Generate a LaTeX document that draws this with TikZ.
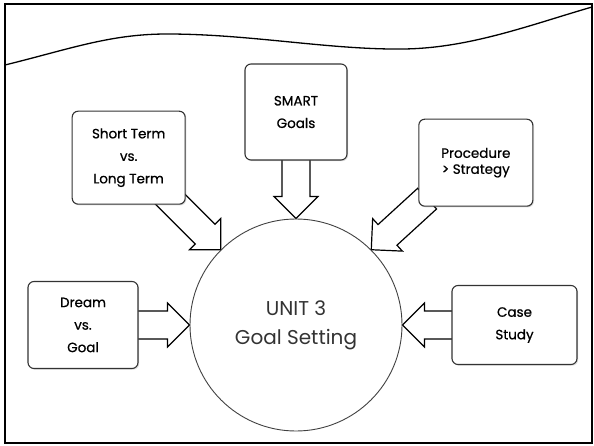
\documentclass[tikz,border=0pt]{standalone}
\usepackage{fontspec}
\setmainfont{Poppins}
\newfontfamily\topicfont{Poppins}[FakeBold=0.7]
\usetikzlibrary{positioning, calc, backgrounds, shadows}

\tikzset{
  topic/.style={draw=black!80, line width=1.1pt, rounded corners=6pt, fill=white, align=center,
    font=\topicfont\fontsize{13.5}{22.5}\selectfont, inner sep=2pt,
    drop shadow={shadow xshift=1.2pt, shadow yshift=-1.2pt, opacity=0.25}},
  unitcircle/.style={circle, draw=black!75, line width=0.9pt, minimum size=212pt, align=center,
    font=\fontsize{20}{29}\selectfont, text=black!80},
  fatarrow/.style={draw=black, fill=white, line width=1.2pt, line join=miter},
  frame/.style={draw=black, line width=1.6pt},
  wave/.style={draw=black, line width=1.3pt}
}

\newcommand{\blockarrow}[2]{%
  \coordinate (tail) at ($(#1)!-12pt!(#2)$);
  \coordinate (neck) at ($(#2)!22pt!(#1)$);
  \draw[fatarrow] ($(tail)!14pt!90:(#2)$) -- ($(neck)!14pt!-90:(#1)$) -- ($(neck)!22pt!-90:(#1)$)
    -- (#2) -- ($(neck)!22pt!90:(#1)$) -- ($(neck)!14pt!90:(#1)$) -- ($(tail)!14pt!-90:(#2)$) -- cycle;}

\begin{document}
\begin{tikzpicture}[x=1pt, y=1pt]
        \useasboundingbox (0,0) rectangle (594,445);
        \draw[frame] (5,2) rectangle (592,441);
        \draw[wave] (5,380) .. controls (70,396) and (110,411) .. (167,411)
            .. controls (250,411) and (330,395) .. (404,396)
            .. controls (470,397) and (530,420) .. (592,438);
        \node[unitcircle] (unit) at (296,120) {UNIT 3\\Goal Setting};
        \node[topic, minimum width=102pt, minimum height=96pt, above=58pt of unit] (smart) {SMART\\Goals};
        \node[topic, minimum width=113pt, minimum height=93pt, above left=45pt and 35pt of unit] (short) {Short Term\\vs.\\Long Term};
        \node[topic, minimum width=114pt, minimum height=87pt, above right=43pt and 47pt of unit,
            font=\topicfont\fontsize{13.5}{16}\selectfont] (proc) {Procedure\\> Strategy};
        \node[topic, minimum width=110pt, minimum height=87pt, left=51pt of unit] (dream) {Dream\\vs.\\Goal};
        \node[topic, minimum width=125pt, minimum height=79pt, right=49pt of unit] (case) {Case\\Study};
        \begin{scope}[on background layer]
            \blockarrow{short.center}{unit.north west}
            \blockarrow{smart.south}{unit.north}
            \blockarrow{proc.south west}{unit.north east}
            \blockarrow{dream.east}{unit.west}
            \blockarrow{case.west}{unit.east}
        \end{scope}
    \end{tikzpicture}
\end{document}
